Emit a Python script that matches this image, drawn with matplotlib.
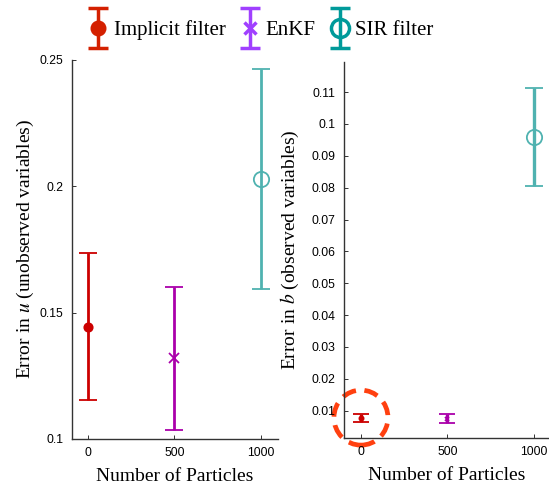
import numpy as np
import matplotlib
matplotlib.use("Agg")
import matplotlib.pyplot as plt
from matplotlib.patches import Ellipse
from matplotlib.transforms import ScaledTranslation
from matplotlib.legend_handler import HandlerErrorbar

plt.rcParams['mathtext.fontset'] = 'stix'

methods = ["Implicit filter", "EnKF", "SIR filter"]
particles = [0, 500, 1000]

# Error in u (unobserved)
u_mean = [0.1443, 0.132, 0.2029]
u_low = [0.1154, 0.1036, 0.1594]
u_high = [0.1736, 0.160, 0.2464]

# Error in b (observed)
b_mean = [0.0076, 0.0075, 0.0959]
b_low = [0.0063, 0.0062, 0.0806]
b_high = [0.0089, 0.0088, 0.1113]

u_ticks = [0.1, 0.15, 0.2, 0.25]
u_ticklabels = ["0.1", "0.15", "0.2", "0.25"]
b_ticks = [0.01, 0.02, 0.03, 0.04, 0.05, 0.06, 0.07, 0.08, 0.09, 0.1, 0.11]
b_ticklabels = ["0.01", "0.02", "0.03", "0.04", "0.05", "0.06", "0.07", "0.08", "0.09", "0.1", "0.11"]

plot_colors = ["#cc0000", "#aa00aa", "#4fb2b0"]
legend_colors = ["#d42000", "#a040ff", "#009a9a"]
markers = ["o", "x", "o"]
mfill = [True, True, False]

fig = plt.figure(figsize=(5.49, 4.87), dpi=100)
ax1 = fig.add_axes([0.131, 0.0986, 0.375, 0.7784])
ax2 = fig.add_axes([0.6266, 0.1006, 0.3734, 0.7724])

tickfont = {'family': 'Liberation Sans', 'size': 8.8}
labelfont = {'family': 'Liberation Serif', 'size': 14}

def draw(ax, means, lows, highs, lw, msizes, capsize):
    for i in range(3):
        m = means[i]
        err = [[m - lows[i]], [highs[i] - m]]
        c = plot_colors[i]
        ax.errorbar([particles[i]], [m], yerr=err, fmt=markers[i], color=c,
                    ecolor=c, elinewidth=lw, capsize=capsize[i], capthick=lw,
                    markersize=msizes[i], markeredgewidth=1.3,
                    markerfacecolor=c if mfill[i] else 'none', markeredgecolor=c)

draw(ax1, u_mean, u_low, u_high, 2.0, [6, 7, 11], [6.5, 6.5, 6.5])
draw(ax2, b_mean, b_low, b_high, 2.4, [3, 3, 11], [6, 6, 6.5])

for ax in (ax1, ax2):
    for s in ('top', 'right'):
        ax.spines[s].set_visible(False)
    for s in ('left', 'bottom'):
        ax.spines[s].set_color('#333333')
        ax.spines[s].set_linewidth(1.0)
    ax.tick_params(direction='in', length=3, width=0.7, colors='#333333',
                   labelcolor='#000000', pad=6)
    ax.set_xticks(particles)
    ax.set_xticklabels([str(p) for p in particles], fontdict=tickfont)
    ax.set_xlabel("Number of Particles", fontdict=labelfont, labelpad=6)

ax1.set_xlim(-92, 1098)
ax1.set_ylim(0.1, 0.25)
ax1.set_yticks(u_ticks)
ax1.set_yticklabels(u_ticklabels, fontdict=tickfont)
ax1.set_ylabel(r"Error in $u$ (unobserved variables)", fontdict=labelfont, labelpad=3)

ax2.set_xlim(-98, 1087)
ax2.set_ylim(0.0014, 0.1195)
ax2.set_yticks(b_ticks)
ax2.set_yticklabels(b_ticklabels, fontdict=tickfont)
ax2.set_ylabel(r"Error in $b$ (observed variables)", fontdict=labelfont, labelpad=8)

# dashed highlight circle
trans = fig.dpi_scale_trans + ScaledTranslation(particles[0], 0.0078, ax2.transData)
circ = Ellipse((0, 0), width=0.54, height=0.55, transform=trans, fill=False,
               edgecolor='#ff4010', linewidth=3.4, linestyle=(0, (3.0, 1.8)), clip_on=False)
ax2.add_artist(circ)

# legend handles
handles = []
for i in range(3):
    c = legend_colors[i]
    h = ax1.errorbar([np.nan], [np.nan], yerr=[[0.01], [0.01]], fmt=markers[i], color=c,
                     ecolor=c, elinewidth=2.5, capsize=7, capthick=2.5,
                     markersize=[9, 9, 13][i], markeredgewidth=2.5,
                     markerfacecolor=c if mfill[i] else 'none', markeredgecolor=c)
    handles.append(h)

leg = fig.legend(handles, methods, loc='center', bbox_to_anchor=(0.476, 0.938), ncol=3,
                 frameon=False, prop={'family': 'Liberation Serif', 'size': 15},
                 handlelength=0.9, handletextpad=0.3, columnspacing=0.7,
                 handler_map={type(handles[0]): HandlerErrorbar(xerr_size=0.5, yerr_size=0.95)})

fig.savefig("out.png", dpi=100)
